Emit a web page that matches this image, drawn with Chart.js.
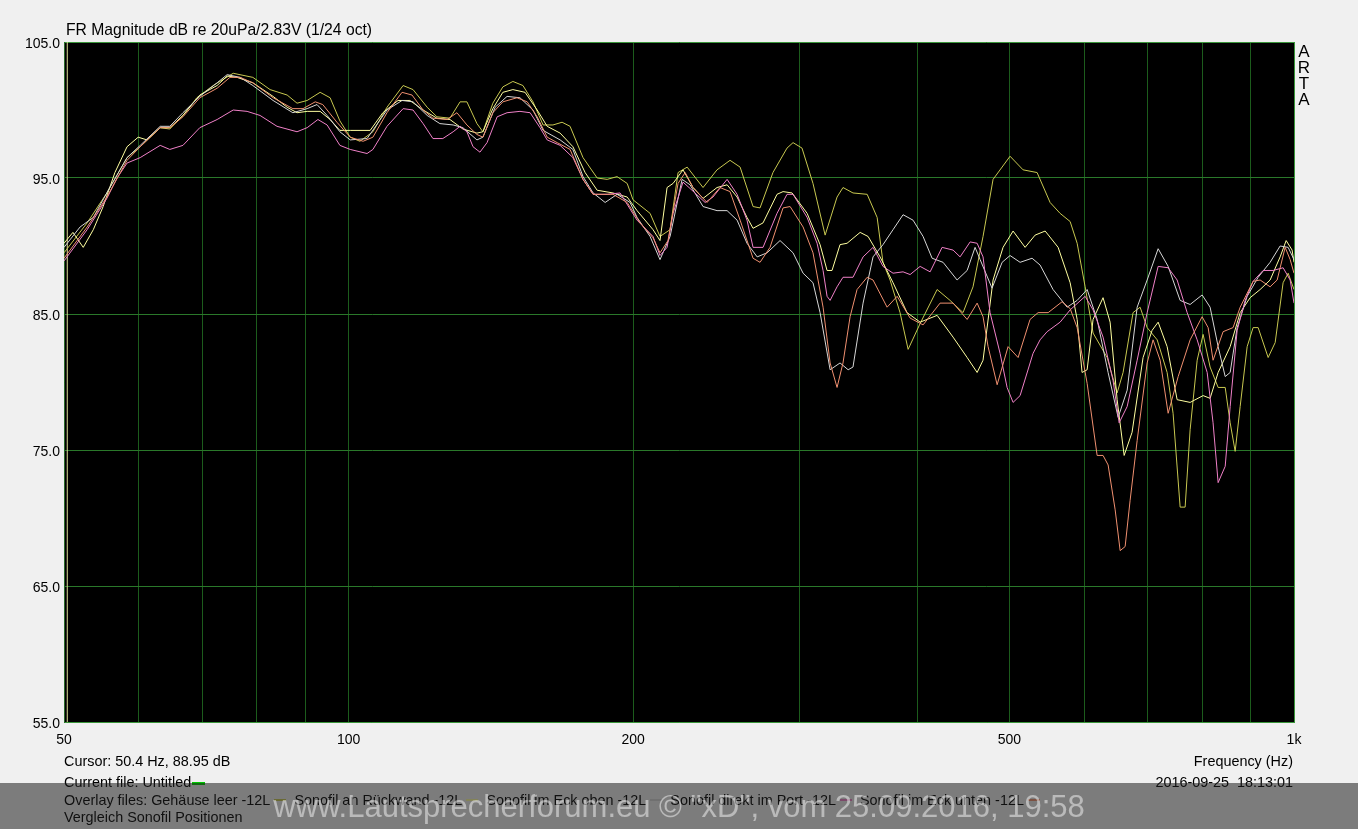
<!DOCTYPE html>
<html>
<head>
<meta charset="utf-8">
<title>FR Magnitude - Vergleich Sonofil Positionen</title>
<script src="https://cdn.jsdelivr.net/npm/chart.js@4.4.1/dist/chart.umd.min.js"></script>
<style>
  html, body { margin: 0; padding: 0; background: #f0f0f0; }
  #wrap { position: relative; width: 1358px; height: 829px; overflow: hidden; background: #f0f0f0;
          font-family: "Liberation Sans", Arial, sans-serif; color: #000; }
  #c { position: absolute; left: 0; top: 0; }
  .t { position: absolute; white-space: pre; line-height: 1; }
  .mk { display: inline-block; width: 12px; height: 2px; vertical-align: 4px; margin: 0 8px 0 4px; }
  #band { position: absolute; left: 0; top: 783px; width: 1358px; height: 46px; background: rgba(30,30,30,0.55); }
  #wm { position: absolute; left: 0; width: 1358px; text-align: center; top: 791px; font-size: 31px; line-height: 1;
        color: rgba(255,255,255,0.47); white-space: pre; }
</style>
</head>
<body>
<div id="wrap">
  <canvas id="c" width="1358" height="829"></canvas>
  <div class="t" style="left:66px; top:22px; font-size:15.7px;">FR Magnitude dB re 20uPa/2.83V (1/24 oct)</div>
  <div class="t" style="left:1297px; top:44px; width:14px; text-align:center; font-size:17px; line-height:16px;">A<br>R<br>T<br>A</div>
  <div class="t" id="cursorTxt" style="left:64px; top:754px; font-size:14.4px;"></div>
  <div class="t" style="right:65px; top:754px; font-size:14.4px;">Frequency (Hz)</div>
  <div class="t" style="left:64px; top:775px; font-size:14.4px;">Current file: Untitled<span style="display:inline-block;width:13px;height:3px;background:#00c800;vertical-align:2px;margin-left:1px;"></span></div>
  <div class="t" style="right:65px; top:775px; font-size:14.4px;">2016-09-25  18:13:01</div>
  <div class="t" id="overlayTxt" style="left:64px; top:793px; font-size:14.4px;"></div>
  <div class="t" style="left:64px; top:810px; font-size:14.4px;">Vergleich Sonofil Positionen</div>
  <div id="band"></div>
  <div id="wm">www.Lautsprecherforum.eu © "xD", vom 25.09.2016, 19:58</div>
</div>
<script>
// Frequency response curves [Hz, dB]
const leerPts = [
  [50.0,89.5],[52.9,91.7],[55.5,93.9],[58.3,96.5],[60.2,97.3],[63.2,98.7],[64.7,98.6],[66.8,99.6],[69.1,100.9],[71.9,101.8],
  [75.5,102.7],[79.2,102.4],[82.6,101.5],[86.1,101.1],[88.2,100.5],[90.4,100.7],[93.3,101.3],[95.6,100.9],[97.9,99.2],[100.4,98.0],
  [102.8,97.7],[106.1,98.4],[109.8,100.2],[114.2,101.8],[117.0,101.5],[121.1,100.2],[124.0,99.5],[128.0,99.4],[131.2,100.6],[133.4,100.6],
  [136.7,99.0],[138.7,98.4],[142.1,100.5],[145.6,101.7],[149.2,102.1],[152.9,101.8],[156.7,100.6],[160.6,98.9],[164.5,98.9],[168.2,99.1],
  [171.5,98.8],[177.0,96.5],[183.2,95.0],[187.7,94.9],[192.3,95.1],[197.1,94.6],[199.9,93.4],[208.4,92.4],[213.5,90.7],[218.8,91.2],
  [223.1,95.4],[228.1,95.8],[237.1,94.3],[245.3,95.6],[253.2,96.3],[259.5,95.8],[267.8,92.9],[272.4,92.8],[281.1,95.4],[290.9,97.2],
  [295.2,97.6],[301.7,97.2],[309.9,94.6],[319.2,90.8],[328.6,93.6],[333.4,94.3],[341.6,93.9],[353.6,93.8],[362.3,92.1],[367.5,88.8],
  [373.9,87.5],[383.1,85.1],[390.7,82.4],[402.3,84.3],[419.3,86.8],[432.7,86.0],[446.6,85.1],[457.6,87.0],[468.9,90.7],[480.5,94.9],
  [500.8,96.6],[516.9,95.6],[534.9,95.4],[552.1,93.2],[565.7,92.4],[579.7,91.8],[589.7,90.2],[601.3,87.0],[613.0,83.6],[634.4,81.8],
  [650.0,79.2],[659.5,80.7],[675.7,85.1],[687.4,85.5],[699.3,84.0],[716.6,83.1],[734.2,80.7],[744.9,77.7],[757.8,70.8],[767.1,70.8],
  [776.5,76.5],[789.9,81.6],[801.4,83.5],[815.2,81.1],[831.3,79.6],[845.7,79.6],[856.0,77.0],[866.5,74.9],[877.1,78.2],[892.2,82.6],
  [905.2,84.0],[916.4,84.0],[939.0,81.8],[955.2,82.9],[973.8,87.3],[985.9,88.0],[1000,86.8]
];
const rueckPts = [
  [50.0,90.2],[51.1,91.0],[52.4,89.9],[53.7,91.2],[55.0,92.9],[56.6,95.4],[58.3,97.3],[59.9,98.0],[61.2,97.8],[63.2,98.7],
  [64.7,98.7],[66.8,99.6],[69.6,101.1],[72.6,101.8],[74.4,102.5],[76.2,102.4],[79.2,102.0],[83.2,101.0],[86.1,100.2],[88.2,99.8],
  [90.4,99.9],[93.3,99.9],[95.6,99.3],[97.9,98.5],[100.4,98.5],[105.4,98.5],[108.7,99.8],[112.8,100.7],[116.1,100.7],[119.9,100.0],
  [124.0,99.4],[128.0,99.3],[132.1,98.6],[136.7,98.3],[138.7,98.4],[142.1,100.1],[145.6,101.3],[149.2,101.5],[153.7,101.3],[158.3,100.0],
  [162.2,98.8],[167.4,98.3],[172.7,97.3],[177.9,95.4],[183.2,94.1],[190.4,93.9],[197.1,93.6],[201.9,92.6],[209.9,91.2],[213.5,90.4],
  [217.2,94.3],[220.4,94.6],[225.8,95.6],[231.4,94.3],[237.1,93.5],[245.3,94.3],[251.4,94.5],[257.6,93.6],[263.9,92.1],[267.8,91.3],
  [274.4,91.7],[283.9,93.8],[288.1,94.0],[294.5,93.9],[305.5,92.4],[315.3,90.1],[320.7,88.2],[324.6,88.2],[331.0,90.1],[336.7,90.2],
  [347.6,91.0],[354.4,90.7],[364.9,89.2],[376.6,87.3],[389.7,85.1],[402.3,84.4],[419.3,84.9],[435.9,83.3],[451.1,81.8],[462.2,80.7],
  [468.9,81.6],[480.5,87.5],[492.3,89.9],[504.5,91.1],[519.5,89.9],[532.3,90.8],[545.5,91.1],[563.0,89.9],[579.7,87.3],[589.7,84.6],
  [596.8,80.7],[604.2,80.9],[613.0,84.6],[628.1,86.2],[639.0,84.4],[650.0,78.7],[661.2,74.6],[674.1,76.3],[692.4,81.8],[707.8,83.8],
  [718.3,84.4],[734.2,82.6],[752.3,78.7],[776.5,78.5],[801.4,79.0],[815.2,78.8],[831.3,80.7],[856.0,82.6],[877.1,85.1],[898.7,86.2],
  [920.8,86.8],[943.5,87.5],[966.8,89.2],[981.1,90.4],[995.4,89.7],[1000,88.8]
];
const obenPts = [
  [50.0,89.9],[52.0,91.4],[53.7,92.1],[55.9,94.3],[58.3,96.5],[60.2,97.4],[63.2,98.8],[64.7,98.8],[66.8,99.8],[69.6,101.0],
  [72.6,102.0],[74.4,102.6],[76.8,102.4],[79.2,101.8],[83.2,100.7],[87.3,99.8],[90.4,100.1],[92.6,100.4],[94.9,99.6],[97.9,98.4],
  [100.4,97.8],[104.6,97.9],[109.8,100.0],[113.9,100.7],[117.0,100.6],[121.1,99.6],[124.9,99.0],[129.0,98.9],[132.1,98.7],[136.7,97.8],
  [138.7,98.0],[142.9,100.2],[147.1,101.0],[151.8,100.9],[156.7,100.0],[160.6,98.5],[167.4,97.8],[172.7,97.1],[177.0,95.1],[181.4,93.9],
  [186.8,93.2],[192.3,93.8],[198.5,93.2],[201.9,92.1],[208.4,90.7],[213.5,89.0],[218.8,90.7],[225.3,94.9],[229.7,94.5],[237.1,92.9],
  [245.3,92.6],[251.4,92.6],[257.6,91.9],[263.9,90.2],[270.5,89.2],[277.1,89.5],[286.0,90.4],[295.2,89.5],[302.5,88.0],[309.9,87.3],
  [315.3,85.1],[323.1,80.9],[331.0,81.4],[337.6,80.9],[341.6,81.1],[350.1,85.8],[358.7,89.2],[367.5,90.1],[376.6,91.2],[385.9,92.3],
  [395.4,91.9],[405.2,90.7],[414.2,89.1],[425.4,88.8],[440.2,87.5],[451.1,88.2],[459.9,89.9],[465.6,89.0],[479.3,86.9],[491.2,88.8],
  [500.8,89.3],[513.2,88.8],[528.4,89.1],[538.8,88.6],[556.1,86.8],[575.5,85.5],[589.7,86.0],[604.2,86.8],[619.1,84.6],[635.9,80.7],
  [651.6,77.4],[666.1,79.4],[682.5,85.5],[699.3,87.5],[718.3,89.8],[736.0,88.5],[757.8,86.0],[776.5,85.7],[799.5,86.4],[815.2,85.5],
  [831.3,82.6],[845.7,80.4],[856.0,80.7],[870.7,84.0],[892.2,86.3],[916.4,87.7],[943.5,88.8],[966.8,90.0],[985.9,89.9],[1000,89.0]
];
const portPts = [
  [50.0,88.9],[52.9,91.2],[55.5,93.5],[56.9,95.0],[58.3,96.1],[60.2,96.5],[63.2,97.4],[64.7,97.1],[66.8,97.4],[69.6,98.7],
  [72.6,99.3],[75.5,100.0],[78.1,99.9],[80.6,99.6],[84.0,98.8],[88.2,98.4],[90.4,98.7],[92.8,99.3],[94.9,98.9],[97.9,97.4],
  [100.4,97.1],[104.6,96.8],[106.1,97.1],[109.8,98.8],[114.2,100.1],[117.0,100.0],[119.9,99.0],[122.8,97.9],[125.8,97.9],[129.0,98.4],
  [131.2,98.8],[133.4,98.4],[135.4,97.3],[137.7,96.9],[140.1,97.6],[143.6,99.5],[147.1,99.8],[151.8,99.9],[155.6,99.8],[159.4,98.7],
  [162.2,97.8],[167.4,97.4],[172.7,96.5],[177.0,94.9],[181.4,93.8],[187.7,93.8],[193.7,93.9],[201.9,91.9],[209.9,90.7],[213.5,89.3],
  [217.2,89.9],[220.4,92.4],[225.8,94.7],[230.8,94.1],[238.3,93.2],[242.9,93.6],[251.4,94.9],[257.6,93.8],[263.9,91.9],[267.8,89.9],
  [274.4,89.9],[283.9,92.4],[290.9,93.8],[295.2,93.8],[305.5,92.1],[313.0,90.2],[317.6,88.2],[320.7,86.3],[323.1,86.0],[328.6,87.0],
  [333.4,87.7],[341.6,87.7],[350.1,89.2],[358.7,89.9],[367.5,88.5],[376.6,88.0],[385.9,88.1],[392.6,87.9],[402.3,88.5],[412.2,88.1],
  [424.4,89.9],[435.9,89.7],[443.4,89.2],[454.4,90.3],[462.2,90.2],[468.9,89.2],[477.0,85.1],[488.8,82.1],[497.2,79.6],[504.5,78.5],
  [513.2,79.0],[529.6,82.1],[538.8,83.1],[548.1,83.7],[565.7,84.4],[579.7,85.3],[601.3,86.3],[613.0,85.3],[628.1,83.3],[643.6,80.1],
  [653.2,77.0],[666.1,78.2],[682.5,81.6],[699.3,85.1],[718.3,88.5],[736.0,88.4],[752.3,87.5],[770.9,85.1],[789.9,83.1],[809.4,80.7],
  [821.1,77.0],[831.3,72.6],[845.7,73.8],[856.0,78.2],[870.7,83.8],[887.9,86.0],[905.2,87.4],[927.5,88.2],[950.4,88.2],[973.8,88.4],
  [990.7,87.5],[1000,85.8]
];
const untenPts = [
  [50.0,89.1],[52.9,91.4],[55.5,93.6],[58.3,96.3],[60.2,97.3],[63.2,98.7],[64.7,98.7],[66.8,99.5],[69.6,100.9],[72.6,101.6],
  [74.9,102.4],[76.8,102.4],[79.2,102.0],[83.2,100.9],[87.3,100.1],[89.5,100.1],[92.2,100.6],[93.9,100.4],[97.2,99.1],[100.4,98.0],
  [103.6,97.7],[106.1,98.0],[109.8,99.8],[113.9,101.3],[116.7,101.1],[119.9,100.0],[122.8,99.4],[127.1,99.3],[130.2,99.8],[133.4,98.9],
  [136.7,98.2],[138.7,98.0],[142.1,99.8],[145.6,100.6],[150.7,100.9],[154.5,100.6],[158.3,99.5],[162.2,98.0],[166.2,97.6],[171.5,97.1],
  [177.0,94.9],[181.4,93.8],[190.4,93.8],[197.1,93.2],[203.4,91.7],[209.9,90.6],[213.5,89.5],[217.7,90.4],[223.1,94.6],[227.0,95.4],
  [231.4,94.3],[239.4,93.2],[247.1,94.3],[253.2,94.0],[259.5,91.9],[267.8,89.1],[272.4,88.8],[279.1,89.9],[288.1,92.8],[293.1,92.9],
  [302.5,91.4],[309.9,89.5],[317.6,85.5],[323.1,81.4],[328.6,79.6],[333.4,81.4],[339.2,84.8],[345.0,86.8],[353.6,87.7],[358.7,87.5],
  [371.2,85.5],[380.4,86.3],[392.6,84.7],[405.2,84.2],[422.3,85.8],[435.9,85.8],[451.1,84.6],[462.2,85.8],[468.9,84.8],[474.7,82.6],
  [485.3,79.8],[498.4,82.6],[510.7,81.8],[525.8,84.6],[536.2,85.1],[549.5,85.1],[568.4,85.9],[579.7,85.4],[589.7,84.0],[604.2,79.9],
  [619.1,74.6],[628.1,74.6],[635.9,73.9],[646.9,70.6],[654.8,67.6],[662.8,67.9],[670.9,71.3],[682.5,75.7],[699.3,81.4],[709.5,83.1],
  [721.8,81.6],[736.0,77.7],[754.2,80.4],[776.5,83.1],[799.5,84.8],[811.3,84.0],[821.1,81.6],[841.4,83.7],[862.1,84.0],[877.1,85.5],
  [905.2,87.4],[920.8,87.5],[943.5,87.0],[959.8,87.5],[978.7,89.9],[990.7,89.0],[1000,88.0]
];

const seriesNames = ['Gehäuse leer -12L', 'Sonofil an Rückwand -12L', 'Sonofil im Eck oben -12L', 'Sonofil direkt im Port -12L', 'Sonofil im Eck unten -12L'];
const xGridHz = [50, 60, 70, 80, 90, 100, 200, 300, 400, 500, 600, 700, 800, 900, 1000];
const xLabelHz = [50, 100, 200, 500, 1000];
const yTicksDb = [55, 65, 75, 85, 95, 105];
const cursorHz = 50.4;
const cursorDb = 88.95;

// colours
const lineColors = ['#c8c850', '#ffffa0', '#d6d6d6', '#f080c8', '#f09070'];
const gridV = '#1c5c1c';
const gridH = '#2a782a';
const frame = '#3a963a';
const font = { family: '"Liberation Sans", Arial, sans-serif', size: 14 };

// footer texts
document.getElementById('cursorTxt').textContent = 'Cursor: ' + cursorHz + ' Hz, ' + cursorDb.toFixed(2) + ' dB';
const ov = document.getElementById('overlayTxt');
ov.appendChild(document.createTextNode('Overlay files: '));
seriesNames.forEach((n, i) => {
  ov.appendChild(document.createTextNode(n));
  const m = document.createElement('span');
  m.className = 'mk';
  m.style.background = lineColors[i];
  ov.appendChild(m);
});

const toXY = pts => pts.map(p => ({ x: p[0], y: p[1] }));
const curves = [leerPts, rueckPts, obenPts, portPts, untenPts];

// first dataset is drawn on top, so reverse the overlay order
const datasets = curves.map((pts, i) => ({
  label: seriesNames[i],
  data: toXY(pts),
  borderColor: lineColors[i],
  borderWidth: 1,
  pointRadius: 0,
  tension: 0,
  fill: false
})).reverse();

datasets.push({
  label: 'Cursor',
  data: [{ x: cursorHz, y: yTicksDb[0] }, { x: cursorHz, y: yTicksDb[yTicksDb.length - 1] }],
  borderColor: '#dede96',
  borderWidth: 1,
  pointRadius: 0,
  fill: false
});

const blackArea = {
  id: 'blackArea',
  beforeDraw(chart) {
    const a = chart.chartArea, ctx = chart.ctx;
    ctx.save();
    ctx.fillStyle = '#000';
    ctx.fillRect(a.left, a.top, a.right - a.left, a.bottom - a.top);
    ctx.restore();
  }
};

new Chart(document.getElementById('c'), {
  type: 'line',
  data: { datasets },
  plugins: [blackArea],
  options: {
    responsive: false,
    devicePixelRatio: 1,
    animation: false,
    layout: { padding: { left: 0, top: 42, right: 64, bottom: 77 } },
    plugins: { legend: { display: false }, tooltip: { enabled: false } },
    scales: {
      x: {
        type: 'logarithmic',
        min: 50,
        max: 1000,
        afterBuildTicks: s => { s.ticks = xGridHz.map(v => ({ value: v })); },
        afterFit: s => { s.height = 30; },
        grid: {
          color: c => (c.tick && c.tick.value === 1000) ? frame : gridV,
          lineWidth: 1,
          drawTicks: false
        },
        border: { display: true, color: frame, width: 1 },
        ticks: {
          autoSkip: false,
          maxRotation: 0,
          padding: 10,
          color: '#000',
          font,
          callback: v => xLabelHz.includes(v) ? (v >= 1000 ? (v / 1000) + 'k' : String(v)) : ''
        }
      },
      y: {
        type: 'linear',
        min: 55,
        max: 105,
        afterBuildTicks: s => { s.ticks = yTicksDb.map(v => ({ value: v })); },
        afterFit: s => { s.width = 64; },
        grid: {
          color: c => (c.tick && c.tick.value === 105) ? frame : gridH,
          lineWidth: 1,
          drawTicks: false
        },
        border: { display: true, color: '#2a6a2a', width: 1 },
        ticks: {
          padding: 4,
          labelOffset: 2,
          color: '#000',
          font,
          callback: v => Number(v).toFixed(1)
        }
      }
    }
  }
});
</script>
</body>
</html>
